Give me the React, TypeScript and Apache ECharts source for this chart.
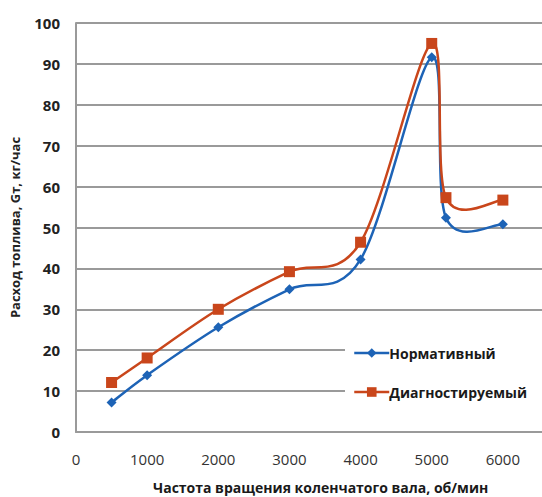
import React, { useEffect, useRef } from "react";
import * as echarts from "echarts";

const rpm = [500, 1000, 2000, 3000, 4000, 5000, 5200, 6000];
const normative = [7.2, 13.9, 25.6, 34.9, 42.2, 91.6, 52.4, 50.8];
const diagnosed = [12.1, 18.1, 30, 39.2, 46.4, 95, 57.3, 56.7];
const seriesNames = ["Нормативный", "Диагностируемый"];
const xTitle = "Частота вращения коленчатого вала, об/мин";
const yTitle = "Расход топлива, Gт, кг/час";

const FONT = "'Open Sans', 'DejaVu Sans', sans-serif";
const BLUE = "#1d63b6";
const RED = "#c9461b";

// Excel-like smoothed curve (Catmull-Rom in pixel space) via custom series
function smoothCurve(ys: number[], color: string, name: string) {
  return {
    name,
    type: "custom",
    z: 2,
    silent: true,
    data: rpm.map((x, i) => [x, ys[i]]),
    renderItem: (params: any, api: any) => {
      if (params.dataIndex !== 0) return null;
      const pts = rpm.map((x, i) => api.coord([x, ys[i]]));
      let d = `M ${pts[0][0]} ${pts[0][1]}`;
      for (let i = 0; i < pts.length - 1; i++) {
        const p0 = pts[Math.max(i - 1, 0)];
        const p1 = pts[i];
        const p2 = pts[i + 1];
        const p3 = pts[Math.min(i + 2, pts.length - 1)];
        const c1x = p1[0] + (p2[0] - p0[0]) / 6;
        const c1y = p1[1] + (p2[1] - p0[1]) / 6;
        const c2x = p2[0] - (p3[0] - p1[0]) / 6;
        const c2y = p2[1] - (p3[1] - p1[1]) / 6;
        d += ` C ${c1x} ${c1y} ${c2x} ${c2y} ${p2[0]} ${p2[1]}`;
      }
      return {
        type: "path",
        shape: { pathData: d },
        style: { fill: "none", stroke: color, lineWidth: 2.5 },
      };
    },
  };
}

export default function App() {
  const ref = useRef<HTMLDivElement>(null);
  useEffect(() => {
    if (!ref.current) return;
    const chart = echarts.init(ref.current, undefined, { renderer: "svg" });
    const pair = (ys: number[]) => rpm.map((x, i) => [x, ys[i]]);
    chart.setOption({
      animation: false,
      backgroundColor: "#ffffff",
      grid: { left: 74, right: 0, top: 23, bottom: 65 },
      legend: {
        orient: "vertical",
        left: 345,
        top: 340,
        itemWidth: 35,
        itemHeight: 12,
        itemGap: 25,
        backgroundColor: "#ffffff",
        padding: [6, 30, 6, 8],
        textStyle: { fontFamily: FONT, fontSize: 14, fontWeight: "bold", color: "#1a1a1a", padding: [0, 0, 0, -5] },
        data: [
          { name: seriesNames[0], lineStyle: { color: BLUE, width: 2.5, opacity: 1 } },
          { name: seriesNames[1], lineStyle: { color: RED, width: 2.5, opacity: 1 } },
        ],
      },
      xAxis: {
        type: "value",
        min: 0,
        max: 6550,
        interval: 1000,
        axisLine: { show: true, lineStyle: { color: "#9a9a9a", width: 2 } },
        axisTick: { show: false },
        splitLine: { show: false },
        axisLabel: {
          margin: 19,
          fontFamily: FONT,
          fontSize: 15,
          color: "#333",
          showMaxLabel: false,
          formatter: (v: number) => (v % 1000 === 0 ? String(v) : ""),
        },
      },
      yAxis: {
        type: "value",
        min: 0,
        max: 100,
        interval: 10,
        name: yTitle,
        nameLocation: "middle",
        nameGap: 55,
        nameTextStyle: { fontFamily: FONT, fontSize: 13, fontWeight: "bold", color: "#222" },
        axisLine: { show: true, lineStyle: { color: "#9a9a9a", width: 2 } },
        axisTick: { show: false },
        splitLine: { show: true, lineStyle: { color: "#9a9a9a", width: 2 } },
        axisLabel: { margin: 16, fontFamily: FONT, fontSize: 15, fontWeight: "bold", color: "#222" },
      },
      graphic: [
        {
          type: "text",
          left: 153,
          top: 480,
          style: { text: xTitle, font: `bold 14px ${FONT}`, fill: "#1a1a1a" },
        },
      ],
      series: [
        smoothCurve(normative, BLUE, "_normCurve"),
        smoothCurve(diagnosed, RED, "_diagCurve"),
        {
          name: seriesNames[0],
          type: "line",
          z: 3,
          data: pair(normative),
          symbol: "diamond",
          symbolSize: 10,
          lineStyle: { color: BLUE, width: 2.5, opacity: 0 },
          itemStyle: { color: BLUE },
        },
        {
          name: seriesNames[1],
          type: "line",
          z: 3,
          data: pair(diagnosed),
          symbol: "rect",
          symbolSize: 11,
          lineStyle: { color: RED, width: 2.5, opacity: 0 },
          itemStyle: { color: RED },
        },
      ],
    });
    return () => chart.dispose();
  }, []);
  return <div ref={ref} style={{ width: 542, height: 497, position: "absolute", left: 0, top: 0 }} />;
}
